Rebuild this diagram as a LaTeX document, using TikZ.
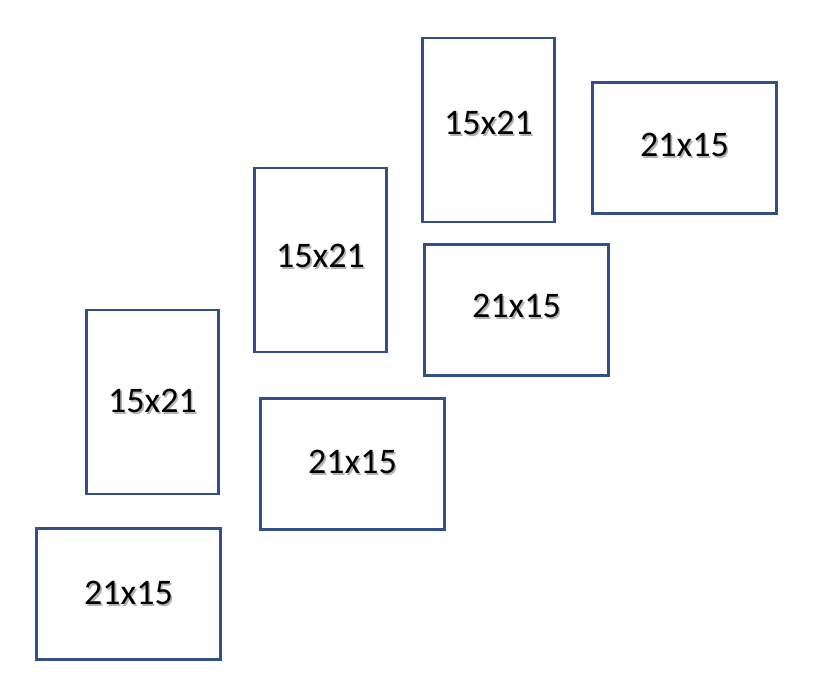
\documentclass[tikz,border=0pt]{standalone}
\usepackage{fontspec}
\setmainfont{Carlito}
\usepackage{tikz}
\definecolor{frameblue}{RGB}{52,78,138}
\newcommand{\shtext}[1]{\makebox[0pt][l]{\hspace{1.6pt}\raisebox{-1.6pt}{\textcolor{black!30}{#1}}}#1}
\tikzset{
    photo/.style={rectangle, draw=frameblue, line width=2.8pt, fill=white, inner sep=0pt, text centered, font=\fontsize{36}{40}\selectfont},
    portrait/.style={photo, minimum width=132pt, minimum height=184pt},
    landscape/.style={photo, minimum width=184pt, minimum height=131pt},
}

\begin{document}
\begin{tikzpicture}[x=1pt, y=1pt]
    \useasboundingbox (0,0) rectangle (816,686);

    \node[portrait] (tall1) at (488.5,556) {\raisebox{14pt}{\shtext{15x21}}};
    \node[landscape] (wide1) at (684.5,538) {\raisebox{6pt}{\shtext{21x15}}};
    \node[portrait] (tall2) at (320.5,426) {\raisebox{8pt}{\shtext{15x21}}};
    \node[landscape] (wide2) at (516.5,376) {\raisebox{8pt}{\shtext{21x15}}};
    \node[portrait] (tall3) at (152.5,284) {\shtext{15x21}};
    \node[landscape] (wide3) at (352.5,222) {\raisebox{4pt}{\shtext{21x15}}};
    \node[landscape] (wide4) at (128.5,92) {\shtext{21x15}};
\end{tikzpicture}
\end{document}
